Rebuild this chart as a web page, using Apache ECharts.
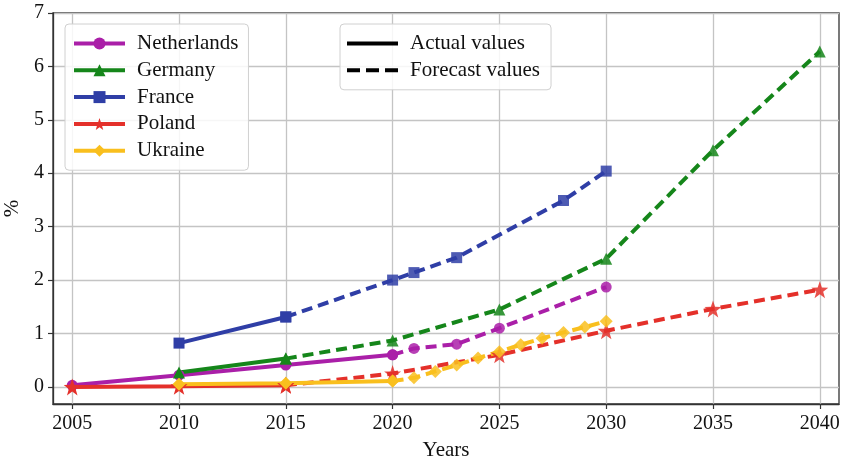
<!DOCTYPE html>
<html>
<head>
<meta charset="utf-8">
<script src="https://cdn.jsdelivr.net/npm/echarts@6/dist/echarts.min.js"></script>
<style>
  html, body { margin: 0; padding: 0; background: #fff; }
  #chart { width: 847px; height: 461px; }
</style>
</head>
<body>
<div id="chart"></div>
<script>
// Share of each country (%), actual and forecast segments
const xTicks = [2005, 2010, 2015, 2020, 2025, 2030, 2035, 2040];
const yTicks = [0, 1, 2, 3, 4, 5, 6, 7];

const nlActualYears = [2005, 2010, 2015, 2020];
const nlActual = [0.03, 0.22, 0.41, 0.60];
const nlForecastYears = [2020, 2021, 2023, 2025, 2030];
const nlForecast = [0.60, 0.72, 0.80, 1.10, 1.87];

const deActualYears = [2010, 2015];
const deActual = [0.27, 0.53];
const deForecastYears = [2015, 2020, 2025, 2030, 2035, 2040];
const deForecast = [0.53, 0.87, 1.45, 2.40, 4.43, 6.28];

const frActualYears = [2010, 2015];
const frActual = [0.82, 1.31];
const frForecastYears = [2015, 2020, 2021, 2023, 2028, 2030];
const frForecast = [1.31, 2.00, 2.14, 2.42, 3.49, 4.04];

const plActualYears = [2005, 2010, 2015];
const plActual = [0.00, 0.01, 0.03];
const plForecastYears = [2015, 2020, 2025, 2030, 2035, 2040];
const plForecast = [0.03, 0.25, 0.60, 1.05, 1.46, 1.82];

const uaActualYears = [2010, 2015, 2020];
const uaActual = [0.05, 0.07, 0.11];
const uaForecastYears = [2020, 2021, 2022, 2023, 2024, 2025, 2026, 2027, 2028, 2029, 2030];
const uaForecast = [0.11, 0.17, 0.29, 0.41, 0.54, 0.66, 0.79, 0.91, 1.02, 1.12, 1.23];

const FONT = "'Liberation Serif', 'Times New Roman', serif";
const DASH = [11, 6];
const LW = 4;

function pairs(xs, ys) { return xs.map((x, i) => [x, ys[i]]); }

const STAR = 'path://M0,-10 L2.35,-3.24 L9.51,-3.09 L3.8,1.24 L5.88,8.09 L0,4 L-5.88,8.09 L-3.8,1.24 L-9.51,-3.09 L-2.35,-3.24 Z';

const countries = [
  { name: 'Netherlands', color: '#aa1fa8', symbol: 'circle', size: 11,
    actual: pairs(nlActualYears, nlActual), forecast: pairs(nlForecastYears, nlForecast) },
  { name: 'Germany', color: '#15861a', symbol: 'triangle', size: 12,
    actual: pairs(deActualYears, deActual), forecast: pairs(deForecastYears, deForecast) },
  { name: 'France', color: '#2f3ea6', symbol: 'rect', size: 11,
    actual: pairs(frActualYears, frActual), forecast: pairs(frForecastYears, frForecast) },
  { name: 'Poland', color: '#e4302a', symbol: STAR, size: 17,
    actual: pairs(plActualYears, plActual), forecast: pairs(plForecastYears, plForecast) },
  { name: 'Ukraine', color: '#f9bf1e', symbol: 'diamond', size: 13,
    actual: pairs(uaActualYears, uaActual), forecast: pairs(uaForecastYears, uaForecast) }
];

const series = [];
countries.forEach(c => {
  series.push({
    name: c.name, type: 'line', data: c.actual,
    symbol: c.symbol, symbolSize: c.size, showAllSymbol: true,
    itemStyle: { color: c.color },
    lineStyle: { color: c.color, width: LW },
    emphasis: { disabled: true }, animation: false
  });
  series.push({
    name: c.name, type: 'line', data: c.forecast,
    symbol: c.symbol, symbolSize: c.size, showAllSymbol: true,
    itemStyle: { color: c.color, opacity: 0.85 },
    lineStyle: { color: c.color, width: LW, type: DASH },
    emphasis: { disabled: true }, animation: false
  });
});
// Line-style key entries (no data of their own)
series.push({
  name: 'Actual values', type: 'line', data: [], symbol: 'none',
  itemStyle: { color: '#000' }, lineStyle: { color: '#000', width: LW }
});
series.push({
  name: 'Forecast values', type: 'line', data: [], symbol: 'none',
  itemStyle: { color: '#000' }, lineStyle: { color: '#000', width: LW, type: DASH }
});

// Key icons: a solid bar and a dashed bar, drawn as filled paths
const SOLID_ICON = 'path://M0,0 L51,0 L51,4 L0,4 Z';
const DASHED_ICON = 'path://M0,0 L13,0 L13,4 L0,4 Z M19,0 L32,0 L32,4 L19,4 Z M38,0 L51,0 L51,4 L38,4 Z';

const legendBase = {
  orient: 'vertical',
  itemWidth: 51,
  itemHeight: 15,
  itemGap: 5.8,
  backgroundColor: 'rgba(255,255,255,0.85)',
  borderColor: '#d0d0d0',
  borderWidth: 1,
  borderRadius: 4,
  selectedMode: false,
  lineStyle: { width: LW },
  textStyle: { fontFamily: FONT, fontSize: 21, color: '#111', padding: [0, 0, 0, 7] }
};

const chart = echarts.init(document.getElementById('chart'), null, { renderer: 'canvas' });
chart.setOption({
  animation: false,
  backgroundColor: '#fff',
  grid: {
    left: 53, right: 8, top: 13, bottom: 57,
    outerBoundsMode: 'none', containLabel: false,
    show: true, borderColor: '#333', borderWidth: 1.3, backgroundColor: 'transparent'
  },
  legend: [
    Object.assign({}, legendBase, {
      left: 65, top: 24, padding: [9, 10, 9, 7],
      data: countries.map(c => c.name)
    }),
    Object.assign({}, legendBase, {
      left: 340, top: 24, padding: [9, 11, 9, 7],
      data: [
        { name: 'Actual values', icon: SOLID_ICON },
        { name: 'Forecast values', icon: DASHED_ICON }
      ]
    })
  ],
  xAxis: {
    type: 'value', min: 2004.1, max: 2040.9,
    name: 'Years', nameLocation: 'middle', nameGap: 36,
    nameTextStyle: { fontFamily: FONT, fontSize: 21, color: '#111' },
    axisLine: { show: true, onZero: false, lineStyle: { color: '#333', width: 1.3 } },
    axisTick: { show: true, length: 5, customValues: xTicks, lineStyle: { color: '#333', width: 1.2 } },
    axisLabel: { customValues: xTicks, fontFamily: FONT, fontSize: 20, color: '#111', margin: 10,
      formatter: v => String(v) },
    splitLine: { show: true, lineStyle: { color: '#c4c4c4', width: 1.3 } }
  },
  yAxis: {
    type: 'value', min: -0.32, max: 7,
    name: '%', nameLocation: 'middle', nameGap: 30, nameRotate: 90,
    nameTextStyle: { fontFamily: FONT, fontSize: 21, color: '#111' },
    axisLine: { show: true, onZero: false, lineStyle: { color: '#333', width: 1.3 } },
    axisTick: { show: true, length: 5, customValues: yTicks, lineStyle: { color: '#333', width: 1.2 } },
    axisLabel: { customValues: yTicks, fontFamily: FONT, fontSize: 20, color: '#111', margin: 9,
      formatter: v => String(v) },
    splitLine: { show: true, lineStyle: { color: '#c4c4c4', width: 1.3 } }
  },
  series: series
});
</script>
</body>
</html>
